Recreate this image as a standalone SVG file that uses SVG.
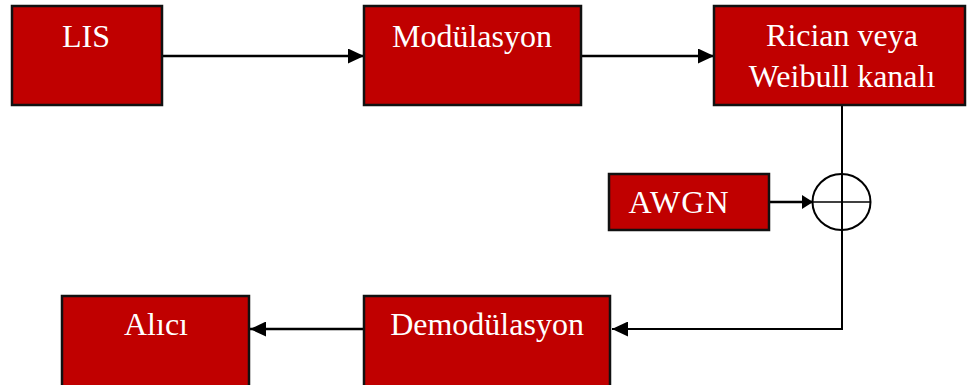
<svg xmlns="http://www.w3.org/2000/svg" width="967" height="385" viewBox="0 0 967 385">
<style>
.box{fill:#C00000;stroke:#111;stroke-width:2.5}
.t{fill:#fff;font-family:"Liberation Serif","Times New Roman",serif;font-size:32px;text-anchor:middle}
.c{fill:none;stroke:#000;stroke-width:2.5}
.thin{fill:none;stroke:#000;stroke-width:2}
</style>
<defs>
<marker id="ah" viewBox="0 0 16 15" refX="16" refY="7.5" markerWidth="16" markerHeight="15" markerUnits="userSpaceOnUse" orient="auto">
<path d="M0,0 L16,7.5 L0,15 Z" fill="#000"/>
</marker>
<marker id="ahs" viewBox="0 0 11 14" refX="11" refY="7" markerWidth="11" markerHeight="14" markerUnits="userSpaceOnUse" orient="auto">
<path d="M0,0 L11,7 L0,14 Z" fill="#000"/>
</marker>
</defs>
<g id="connectors">
<line class="c" x1="162" y1="56" x2="364" y2="56" marker-end="url(#ah)"/>
<line class="c" x1="581" y1="56" x2="714" y2="56" marker-end="url(#ah)"/>
<line class="thin" x1="842" y1="105" x2="842" y2="174"/>
<line class="c" x1="769" y1="202" x2="813" y2="202" marker-end="url(#ahs)"/>
<polyline class="thin" points="842,230 842,329 612,329" marker-end="url(#ah)"/>
<line class="c" x1="364" y1="329" x2="250" y2="329" marker-end="url(#ah)"/>
</g>
<g id="lis">
<rect class="box" x="12" y="6" width="150" height="99"/>
<text class="t" x="86" y="47">LIS</text>
</g>
<g id="modulasyon">
<rect class="box" x="364" y="6" width="217" height="99"/>
<text class="t" x="472" y="47">Modülasyon</text>
</g>
<g id="kanal">
<rect class="box" x="714" y="6" width="251" height="99"/>
<text class="t" x="842" y="46">Rician veya</text>
<text class="t" x="842" y="87">Weibull kanalı</text>
</g>
<g id="awgn">
<rect class="box" x="609" y="174" width="160" height="56"/>
<text class="t" x="679" y="213" letter-spacing="1">AWGN</text>
</g>
<g id="toplayici">
<ellipse cx="841.5" cy="202" rx="29" ry="28" fill="#fff" stroke="#000" stroke-width="2"/>
<line x1="812.5" y1="202" x2="870.5" y2="202" stroke="#000" stroke-width="1.5"/>
<line x1="842" y1="174" x2="842" y2="230" stroke="#000" stroke-width="2"/>
</g>
<g id="demodulasyon">
<rect class="box" x="364" y="296" width="246" height="92"/>
<text class="t" x="487" y="335">Demodülasyon</text>
</g>
<g id="alici">
<rect class="box" x="62" y="296" width="187" height="92"/>
<text class="t" x="156" y="335">Alıcı</text>
</g>
</svg>
